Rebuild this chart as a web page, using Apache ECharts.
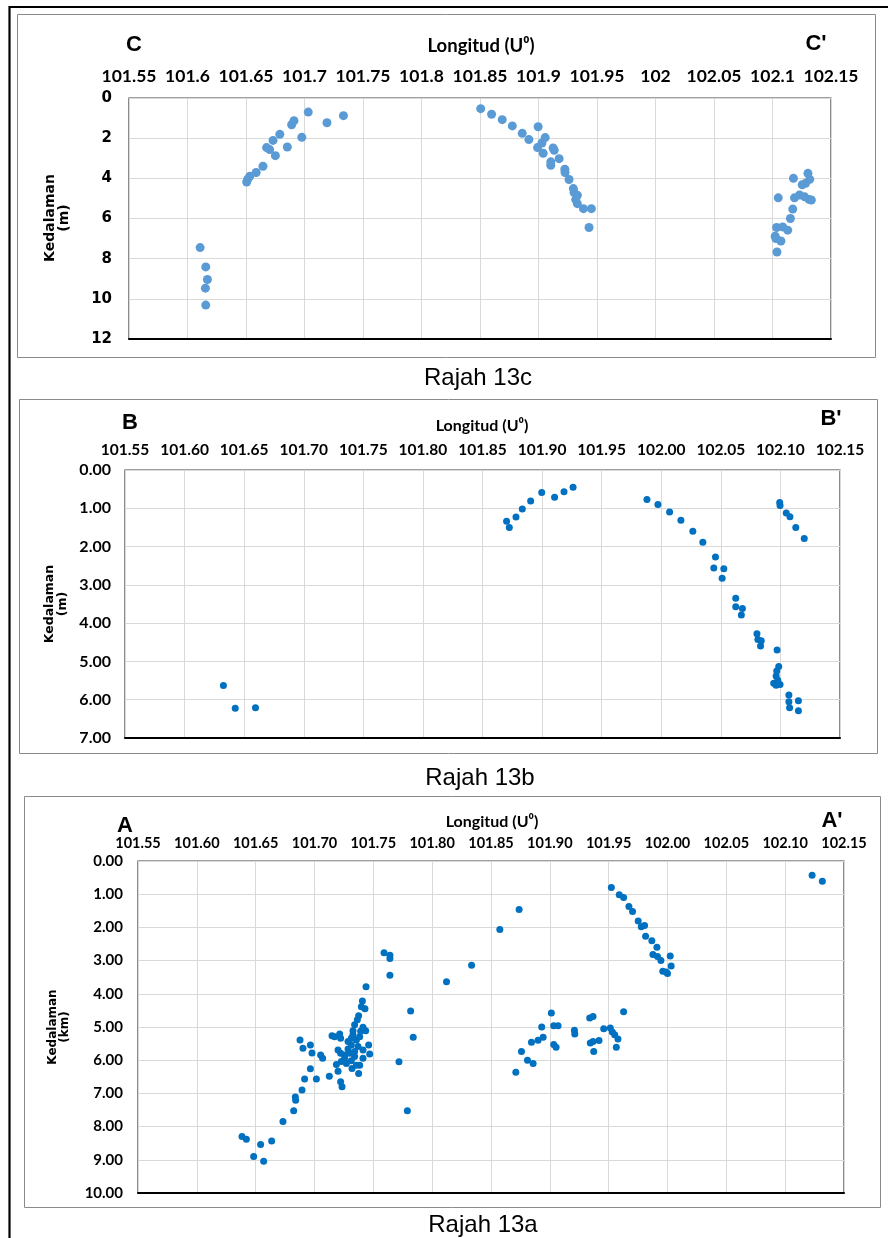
<!DOCTYPE html>
<html>
<head>
<meta charset="utf-8">
<script src="https://cdn.jsdelivr.net/npm/echarts@6/dist/echarts.min.js"></script>
<style>
html,body{margin:0;padding:0;background:#fff;}
#chart{width:888px;height:1238px;}
</style>
</head>
<body>
<div id="chart"></div>
<script>
// ---------- tick labels ----------
var xTicksC = ['101.55','101.6','101.65','101.7','101.75','101.8','101.85','101.9','101.95','102','102.05','102.1','102.15'];
var xTicksAB = ['101.55','101.60','101.65','101.70','101.75','101.80','101.85','101.90','101.95','102.00','102.05','102.10','102.15'];
var yTicksC = ['0','2','4','6','8','10','12'];
var yTicksB = ['0.00','1.00','2.00','3.00','4.00','5.00','6.00','7.00'];
var yTicksA = ['0.00','1.00','2.00','3.00','4.00','5.00','6.00','7.00','8.00','9.00','10.00'];

// ---------- Rajah 13c ----------
var cLon = [101.6108,101.6156,101.6170,101.6153,101.6156,
  101.6506,101.6514,101.6532,101.6587,101.6645,101.6676,101.6702,101.6751,101.6731,101.6789,101.6853,101.6890,101.6910,101.6977,101.7032,101.7192,101.7333,
  101.8506,101.8599,101.8690,101.8776,101.8861,101.8918,101.8997,101.9057,101.9029,101.8992,101.9040,101.9125,101.9134,101.9176,101.9105,101.9105,101.9225,101.9227,101.9261,101.9298,101.9304,101.9332,101.9318,101.9332,101.9384,101.9452,101.9432,
  102.1179,102.1303,102.1318,102.1283,102.1254,102.1049,102.1188,102.1231,102.1275,102.1312,102.1332,102.1173,102.1153,102.1035,102.1087,102.1130,102.1029,102.1072,102.1038,102.1023];
var cDepth = [7.45,8.41,9.04,9.47,10.31,
  4.18,4.05,3.90,3.71,3.40,2.47,2.57,2.87,2.11,1.81,2.44,1.33,1.13,1.96,0.70,1.23,0.88,
  0.53,0.81,1.08,1.39,1.76,2.07,1.43,1.97,2.24,2.47,2.75,2.49,2.60,3.02,3.18,3.35,3.55,3.71,4.06,4.51,4.71,4.84,5.06,5.26,5.51,5.51,6.45,
  4.00,3.75,4.05,4.25,4.32,4.97,4.97,4.83,4.92,5.05,5.08,5.53,6.00,6.45,6.42,6.58,7.00,7.12,7.67,6.88];

// ---------- Rajah 13b ----------
var bLon = [101.6326,101.6425,101.6595,
  101.8702,101.8725,101.8781,101.8834,101.8904,101.8997,101.9105,101.9184,101.9260,
  101.9880,101.9972,102.0070,102.0165,102.0265,102.0349,102.0455,102.0441,102.0525,102.0511,102.0625,102.0625,102.0681,102.0672,102.0803,102.0811,102.0839,102.0833,102.0972,102.0986,102.0969,102.0964,102.0978,102.0944,102.0997,102.0964,102.1071,102.1071,102.1077,102.1151,102.1151,
  102.0994,102.0997,102.1049,102.1080,102.1129,102.1200];
var bDepth = [5.63,6.22,6.21,
  1.34,1.50,1.23,1.02,0.81,0.59,0.71,0.57,0.45,
  0.77,0.90,1.10,1.31,1.60,1.89,2.27,2.56,2.58,2.83,3.35,3.57,3.62,3.79,4.28,4.43,4.46,4.60,4.70,5.13,5.25,5.38,5.49,5.57,5.60,5.62,5.88,6.05,6.21,6.03,6.29,
  0.85,0.93,1.12,1.22,1.50,1.79];

// ---------- Rajah 13a ----------
var aLon = [101.6384,101.6421,101.6542,101.6636,101.6483,101.6568,101.6732,101.6823,101.6840,101.6837,101.6894,101.6916,101.7016,101.6965,
  101.6877,101.6965,101.6902,101.6979,101.7052,101.7069,101.7126,
  101.7438,101.7407,101.7398,101.7429,101.7375,101.7364,101.7341,101.7412,101.7435,101.7327,101.7149,101.7171,101.7214,101.7222,101.7313,101.7356,101.7384,
  101.7313,101.7370,101.7460,101.7285,101.7200,101.7222,101.7256,101.7299,101.7341,101.7412,101.7469,101.7412,101.7186,101.7228,101.7271,101.7313,101.7356,
  101.7384,101.7319,101.7200,101.7375,101.7222,101.7234,101.7285,101.7327,101.7392,101.7256,101.7341,
  101.7591,101.7641,101.7641,101.7641,101.7817,101.7839,101.7718,101.7789,101.8122,101.8335,101.8575,101.8739,
  101.8711,101.8759,101.8810,101.8858,101.8844,101.8900,101.8943,101.8931,101.9013,101.9033,101.9070,101.9033,101.9053,101.9209,101.9212,
  101.9339,101.9367,101.9344,101.9367,101.9418,101.9373,101.9458,101.9514,101.9531,101.9551,101.9579,101.9565,101.9627,
  101.9523,101.9590,101.9627,101.9672,101.9703,101.9751,101.9777,101.9805,101.9814,101.9867,101.9910,101.9876,101.9915,101.9944,102.0023,101.9960,102.0000,102.0031,101.9989,
  102.1229,102.1316];
var aDepth = [8.30,8.38,8.54,8.43,8.90,9.04,7.85,7.52,7.21,7.11,6.90,6.57,6.57,6.26,
  5.39,5.54,5.64,5.78,5.84,5.94,6.48,
  3.79,4.22,4.39,4.45,4.66,4.78,4.93,5.01,5.11,5.11,5.26,5.29,5.21,5.34,5.34,5.39,5.29,
  5.54,5.59,5.54,5.66,5.69,5.79,5.84,5.79,5.74,5.69,5.81,5.94,6.13,6.04,6.10,6.02,6.15,
  6.15,6.25,6.33,6.40,6.65,6.80,5.44,5.23,5.13,5.94,5.89,
  2.76,2.84,2.94,3.44,4.52,5.31,6.05,7.52,3.64,3.14,2.06,1.46,
  6.36,5.74,6.00,6.10,5.46,5.40,5.31,5.00,4.58,4.96,4.96,5.53,5.61,5.10,5.21,
  4.73,4.68,5.48,5.44,5.41,5.74,5.05,5.03,5.15,5.23,5.36,5.61,4.54,
  0.80,1.02,1.10,1.37,1.52,1.81,1.98,1.94,2.27,2.40,2.60,2.82,2.88,3.00,2.86,3.32,3.39,3.16,3.34,
  0.43,0.61];

function zip(a,b){var r=[];for(var i=0;i<a.length;i++){r.push([a[i],b[i]]);}return r;}

var TICKF = 'Lato, "Open Sans", sans-serif';
var LON_MIN = 101.55, LON_MAX = 102.15, LON_STEP = 0.05;

var grids = [
  {left:129, top:98, width:702, height:241},
  {left:125, top:470, width:715, height:268},
  {left:138, top:861, width:706, height:332}
];
var xLabelSize = [17.5, 15.5, 14.5];
var xLabelMargin = [13, 12, 10];
var xLabelSets = [xTicksC, xTicksAB, xTicksAB];
var yMax = [12, 7, 10], yStep = [2, 1, 1];
var yLabelSets = [yTicksC, yTicksB, yTicksA];
var yLabelFont = ['"DejaVu Sans", sans-serif', TICKF, TICKF];
var yLabelSize = [15, 16, 15];
var yLabelMargin = [17, 14, 15];

var xAxes = [], yAxes = [];
grids.forEach(function(g, i){
  g.show = true; g.borderColor = '#404040'; g.borderWidth = 1.2; g.containLabel = false;
  (function(labels){
    xAxes.push({
      type:'value', gridIndex:i, position:'top', min:LON_MIN, max:LON_MAX, interval:LON_STEP,
      axisLine:{show:false}, axisTick:{show:false},
      axisLabel:{fontFamily:TICKF, fontWeight:'bold', fontSize:xLabelSize[i], color:'#000', margin:xLabelMargin[i],
        formatter:function(v){return labels[Math.round((v-LON_MIN)/LON_STEP)];}},
      splitLine:{show:true, lineStyle:{color:'#d9d9d9', width:1}}
    });
  })(xLabelSets[i]);
  xAxes.push({
    type:'value', gridIndex:i, position:'bottom', min:LON_MIN, max:LON_MAX,
    axisLine:{show:true, onZero:false, lineStyle:{color:'#000', width:2}},
    axisTick:{show:false}, axisLabel:{show:false}, splitLine:{show:false}
  });
  (function(labels, step){
    yAxes.push({
      type:'value', gridIndex:i, inverse:true, min:0, max:yMax[i], interval:step,
      axisLine:{show:false}, axisTick:{show:false},
      axisLabel:{fontFamily:yLabelFont[i], fontWeight:'bold', fontSize:yLabelSize[i], color:'#000', margin:yLabelMargin[i],
        formatter:function(v){return labels[Math.round(v/step)];}},
      splitLine:{show:true, lineStyle:{color:'#d9d9d9', width:1}}
    });
  })(yLabelSets[i], yStep[i]);
});

var series = [
  {type:'scatter', xAxisIndex:0, yAxisIndex:0, data:zip(cLon,cDepth), symbolSize:9, itemStyle:{color:'#5B9BD5', opacity:1}},
  {type:'scatter', xAxisIndex:2, yAxisIndex:1, data:zip(bLon,bDepth), symbolSize:7, itemStyle:{color:'#0070C0', opacity:1}},
  {type:'scatter', xAxisIndex:4, yAxisIndex:2, data:zip(aLon,aDepth), symbolSize:7, itemStyle:{color:'#0070C0', opacity:1}}
];

function txt(x,y,s,font,size,weight,extra){
  var o = {type:'text', x:x, y:y, silent:true, style:{text:s, fontFamily:font, fontSize:size, fontWeight:weight||'normal', fill:'#000', align:'center', verticalAlign:'middle'}};
  if(extra){for(var k in extra){o[k]=extra[k];}}
  return o;
}
var ARIAL = '"Liberation Sans", Arial, sans-serif';
var VERD = '"DejaVu Sans", sans-serif';
var graphic = [
  {type:'line', silent:true, shape:{x1:9.5, y1:7, x2:888, y2:7}, style:{stroke:'#000', lineWidth:2.2}},
  {type:'line', silent:true, shape:{x1:9.5, y1:6, x2:9.5, y2:1238}, style:{stroke:'#000', lineWidth:2.2}},
  {type:'rect', silent:true, shape:{x:17.5, y:14.5, width:858, height:343}, style:{fill:'none', stroke:'#8a8a8a', lineWidth:1}},
  {type:'rect', silent:true, shape:{x:19.5, y:399.5, width:858, height:354}, style:{fill:'none', stroke:'#8a8a8a', lineWidth:1}},
  {type:'rect', silent:true, shape:{x:24.5, y:796.5, width:856, height:411}, style:{fill:'none', stroke:'#8a8a8a', lineWidth:1}},
  // panel C
  txt(134, 45, 'C', ARIAL, 22, 'bold'),
  txt(816, 44, "C'", ARIAL, 22, 'bold'),
  txt(481, 46, 'Longitud (U\u2070)', TICKF, 18.5, 'bold'),
  txt(57, 218, 'Kedalaman\n(m)', VERD, 14, 'bold', {rotation:Math.PI/2}),
  txt(478, 378, 'Rajah 13c', ARIAL, 24, 'normal'),
  // panel B
  txt(130, 423, 'B', ARIAL, 22, 'bold'),
  txt(831, 419, "B'", ARIAL, 22, 'bold'),
  txt(482, 426, 'Longitud (U\u2070)', TICKF, 16, 'bold'),
  txt(56, 604, 'Kedalaman\n(m)', VERD, 12.5, 'bold', {rotation:Math.PI/2}),
  txt(480, 778, 'Rajah 13b', ARIAL, 24, 'normal'),
  // panel A
  txt(125, 826, 'A', ARIAL, 22, 'bold'),
  txt(832, 821, "A'", ARIAL, 22, 'bold'),
  txt(492, 822, 'Longitud (U\u2070)', TICKF, 16, 'bold'),
  txt(59, 1027, 'Kedalaman\n(km)', VERD, 12, 'bold', {rotation:Math.PI/2}),
  txt(483, 1225, 'Rajah 13a', ARIAL, 24, 'normal')
];

var chart = echarts.init(document.getElementById('chart'), null, {renderer:'canvas'});
chart.setOption({
  backgroundColor:'#ffffff',
  animation:false,
  grid:grids,
  xAxis:xAxes,
  yAxis:yAxes,
  series:series,
  graphic:graphic
});
</script>
</body>
</html>
